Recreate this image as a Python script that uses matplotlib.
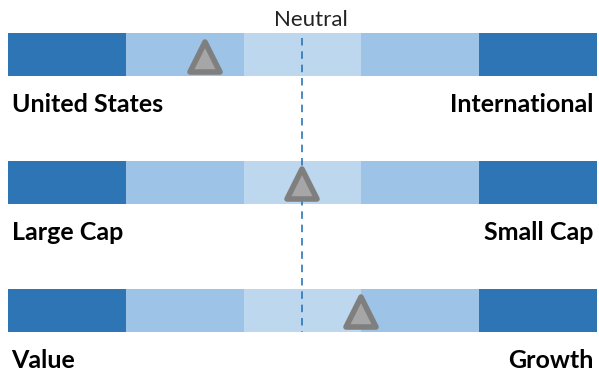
import matplotlib.pyplot as plt
from matplotlib.markers import MarkerStyle

# left / right labels for each row
left_labels = ['United States', 'Large Cap', 'Value']
right_labels = ['International', 'Small Cap', 'Growth']
# where the marker sits on the 0..5 scale (2.5 = neutral)
positions = [1.67, 2.5, 3.0]
segment_colors = ['#2E75B6', '#9DC3E6', '#BDD7EE', '#9DC3E6', '#2E75B6']
neutral = 2.5

fig = plt.figure(figsize=(5.99, 3.70), dpi=100)
ax = fig.add_axes([8 / 599, 0, 589 / 599, 1])
ax.set_xlim(0, 5)
ax.set_ylim(370, 0)
ax.axis('off')

bar_y = [54.5, 182, 310]
label_y = [104, 233, 360]
bar_h = 43

for i in range(3):
    ax.barh(bar_y[i], [1] * 5, left=range(5), height=bar_h,
            color=segment_colors, linewidth=0)
    ax.text(0.03, label_y[i], left_labels[i], ha='left', va='center',
            fontsize=18, fontweight='bold', family='Lato')
    ax.text(4.97, label_y[i], right_labels[i], ha='right', va='center',
            fontsize=18, fontweight='bold', family='Lato')

ax.plot([neutral, neutral], [38, 332], color='#2E75B6', lw=1.2,
        dashes=(4.5, 3.5), zorder=3)
ax.text(neutral + 0.07, 20, 'Neutral', ha='center', va='center', fontsize=16,
        family='Lato', color='#222222')

tri = MarkerStyle('^', joinstyle='round')
for i in range(3):
    ax.plot(positions[i], bar_y[i] + 2, marker=tri, markersize=22,
            markerfacecolor='#A6A6A6', markeredgecolor='#7F7F7F',
            markeredgewidth=4, zorder=4)

fig.savefig('out.png', dpi=100)
